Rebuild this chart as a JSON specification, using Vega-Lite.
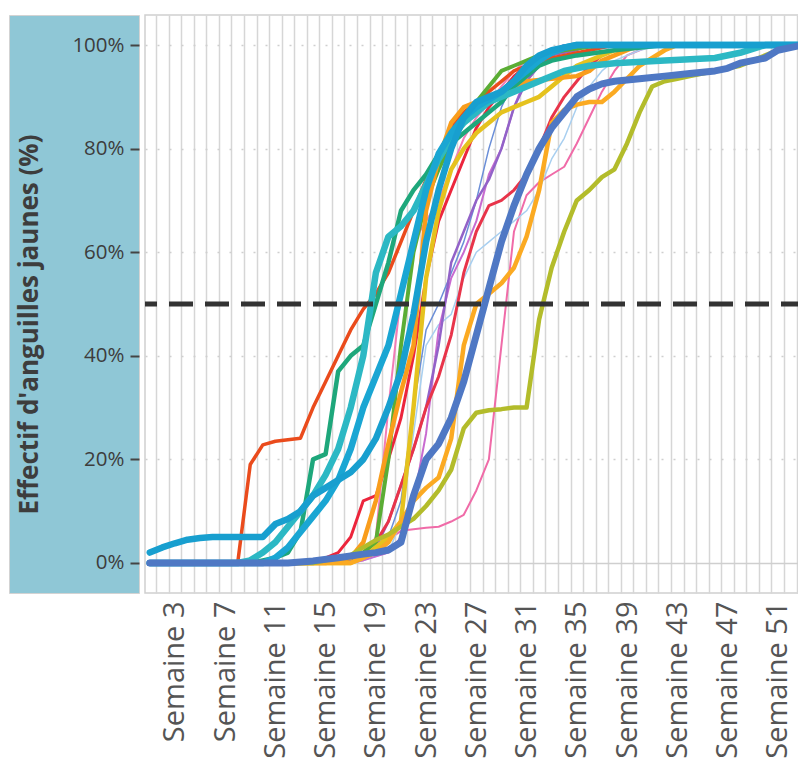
{
  "$schema": "https://vega.github.io/schema/vega-lite/v6.json",
  "padding": {"left": 8, "top": 14, "right": 0, "bottom": 0},
  "background": "white",
  "spacing": 0,
  "datasets": {
    "curves": [
      {"s":"s01","w":1,"v":0},{"s":"s01","w":17,"v":0},{"s":"s01","w":18,"v":0.005},{"s":"s01","w":19,"v":0.02},{"s":"s01","w":20,"v":0.045},{"s":"s01","w":21,"v":0.062},{"s":"s01","w":22,"v":0.065},{"s":"s01","w":23,"v":0.068},{"s":"s01","w":24,"v":0.07},{"s":"s01","w":25,"v":0.08},{"s":"s01","w":26,"v":0.093},{"s":"s01","w":27,"v":0.14},{"s":"s01","w":28,"v":0.2},{"s":"s01","w":29,"v":0.42},{"s":"s01","w":30,"v":0.64},{"s":"s01","w":31,"v":0.71},{"s":"s01","w":32,"v":0.735},{"s":"s01","w":33,"v":0.75},{"s":"s01","w":34,"v":0.765},{"s":"s01","w":35,"v":0.81},{"s":"s01","w":36,"v":0.86},{"s":"s01","w":37,"v":0.91},{"s":"s01","w":38,"v":0.95},{"s":"s01","w":39,"v":0.98},{"s":"s01","w":40,"v":0.99},{"s":"s01","w":41,"v":1},{"s":"s01","w":53,"v":1},
      {"s":"s02","w":1,"v":0},{"s":"s02","w":16,"v":0},{"s":"s02","w":17,"v":0.005},{"s":"s02","w":18,"v":0.01},{"s":"s02","w":19,"v":0.05},{"s":"s02","w":20,"v":0.3},{"s":"s02","w":21,"v":0.52},{"s":"s02","w":22,"v":0.62},{"s":"s02","w":23,"v":0.66},{"s":"s02","w":24,"v":0.7},{"s":"s02","w":25,"v":0.76},{"s":"s02","w":26,"v":0.82},{"s":"s02","w":27,"v":0.86},{"s":"s02","w":28,"v":0.89},{"s":"s02","w":29,"v":0.92},{"s":"s02","w":30,"v":0.95},{"s":"s02","w":31,"v":0.97},{"s":"s02","w":33,"v":0.99},{"s":"s02","w":35,"v":1},{"s":"s02","w":53,"v":1},
      {"s":"s03","w":1,"v":0},{"s":"s03","w":17,"v":0},{"s":"s03","w":18,"v":0.005},{"s":"s03","w":20,"v":0.02},{"s":"s03","w":21,"v":0.08},{"s":"s03","w":22,"v":0.25},{"s":"s03","w":23,"v":0.42},{"s":"s03","w":24,"v":0.46},{"s":"s03","w":25,"v":0.48},{"s":"s03","w":26,"v":0.55},{"s":"s03","w":27,"v":0.6},{"s":"s03","w":28,"v":0.62},{"s":"s03","w":29,"v":0.64},{"s":"s03","w":30,"v":0.66},{"s":"s03","w":31,"v":0.68},{"s":"s03","w":32,"v":0.72},{"s":"s03","w":33,"v":0.78},{"s":"s03","w":34,"v":0.82},{"s":"s03","w":35,"v":0.88},{"s":"s03","w":36,"v":0.92},{"s":"s03","w":37,"v":0.95},{"s":"s03","w":38,"v":0.97},{"s":"s03","w":40,"v":0.99},{"s":"s03","w":42,"v":1},{"s":"s03","w":53,"v":1},
      {"s":"s04","w":1,"v":0},{"s":"s04","w":16,"v":0},{"s":"s04","w":17,"v":0.005},{"s":"s04","w":19,"v":0.02},{"s":"s04","w":20,"v":0.05},{"s":"s04","w":21,"v":0.12},{"s":"s04","w":22,"v":0.3},{"s":"s04","w":23,"v":0.45},{"s":"s04","w":24,"v":0.5},{"s":"s04","w":25,"v":0.56},{"s":"s04","w":26,"v":0.62},{"s":"s04","w":27,"v":0.7},{"s":"s04","w":28,"v":0.8},{"s":"s04","w":29,"v":0.88},{"s":"s04","w":30,"v":0.93},{"s":"s04","w":31,"v":0.96},{"s":"s04","w":32,"v":0.98},{"s":"s04","w":34,"v":1},{"s":"s04","w":53,"v":1},
      {"s":"s05","w":1,"v":0},{"s":"s05","w":17,"v":0},{"s":"s05","w":18,"v":0.005},{"s":"s05","w":20,"v":0.02},{"s":"s05","w":21,"v":0.05},{"s":"s05","w":22,"v":0.12},{"s":"s05","w":23,"v":0.25},{"s":"s05","w":24,"v":0.45},{"s":"s05","w":25,"v":0.55},{"s":"s05","w":26,"v":0.6},{"s":"s05","w":27,"v":0.66},{"s":"s05","w":28,"v":0.75},{"s":"s05","w":29,"v":0.8},{"s":"s05","w":30,"v":0.88},{"s":"s05","w":31,"v":0.94},{"s":"s05","w":32,"v":0.98},{"s":"s05","w":34,"v":1},{"s":"s05","w":53,"v":1},
      {"s":"s06","w":1,"v":0},{"s":"s06","w":16,"v":0},{"s":"s06","w":17,"v":0.005},{"s":"s06","w":18,"v":0.01},{"s":"s06","w":19,"v":0.03},{"s":"s06","w":20,"v":0.08},{"s":"s06","w":21,"v":0.15},{"s":"s06","w":22,"v":0.22},{"s":"s06","w":23,"v":0.3},{"s":"s06","w":24,"v":0.42},{"s":"s06","w":25,"v":0.58},{"s":"s06","w":26,"v":0.64},{"s":"s06","w":27,"v":0.7},{"s":"s06","w":28,"v":0.74},{"s":"s06","w":29,"v":0.8},{"s":"s06","w":30,"v":0.88},{"s":"s06","w":31,"v":0.93},{"s":"s06","w":32,"v":0.96},{"s":"s06","w":33,"v":0.98},{"s":"s06","w":35,"v":0.99},{"s":"s06","w":36,"v":1},{"s":"s06","w":53,"v":1},
      {"s":"s07","w":1,"v":0},{"s":"s07","w":16,"v":0},{"s":"s07","w":17,"v":0.01},{"s":"s07","w":18,"v":0.02},{"s":"s07","w":19,"v":0.04},{"s":"s07","w":20,"v":0.08},{"s":"s07","w":21,"v":0.15},{"s":"s07","w":22,"v":0.22},{"s":"s07","w":23,"v":0.3},{"s":"s07","w":24,"v":0.36},{"s":"s07","w":25,"v":0.44},{"s":"s07","w":26,"v":0.56},{"s":"s07","w":27,"v":0.64},{"s":"s07","w":28,"v":0.69},{"s":"s07","w":29,"v":0.7},{"s":"s07","w":30,"v":0.72},{"s":"s07","w":31,"v":0.75},{"s":"s07","w":32,"v":0.8},{"s":"s07","w":33,"v":0.86},{"s":"s07","w":34,"v":0.9},{"s":"s07","w":35,"v":0.93},{"s":"s07","w":36,"v":0.96},{"s":"s07","w":37,"v":0.98},{"s":"s07","w":38,"v":0.99},{"s":"s07","w":40,"v":1},{"s":"s07","w":53,"v":1},
      {"s":"s08","w":1,"v":0},{"s":"s08","w":14,"v":0},{"s":"s08","w":15,"v":0.01},{"s":"s08","w":16,"v":0.02},{"s":"s08","w":17,"v":0.05},{"s":"s08","w":18,"v":0.12},{"s":"s08","w":19,"v":0.13},{"s":"s08","w":20,"v":0.2},{"s":"s08","w":21,"v":0.28},{"s":"s08","w":22,"v":0.4},{"s":"s08","w":23,"v":0.55},{"s":"s08","w":24,"v":0.66},{"s":"s08","w":25,"v":0.72},{"s":"s08","w":26,"v":0.78},{"s":"s08","w":27,"v":0.84},{"s":"s08","w":28,"v":0.88},{"s":"s08","w":29,"v":0.91},{"s":"s08","w":30,"v":0.94},{"s":"s08","w":31,"v":0.96},{"s":"s08","w":32,"v":0.975},{"s":"s08","w":33,"v":0.985},{"s":"s08","w":35,"v":0.995},{"s":"s08","w":37,"v":1},{"s":"s08","w":53,"v":1},
      {"s":"s09","w":1,"v":0},{"s":"s09","w":8,"v":0},{"s":"s09","w":9,"v":0.19},{"s":"s09","w":10,"v":0.228},{"s":"s09","w":11,"v":0.235},{"s":"s09","w":12,"v":0.238},{"s":"s09","w":13,"v":0.241},{"s":"s09","w":14,"v":0.3},{"s":"s09","w":15,"v":0.35},{"s":"s09","w":16,"v":0.4},{"s":"s09","w":17,"v":0.45},{"s":"s09","w":18,"v":0.49},{"s":"s09","w":19,"v":0.52},{"s":"s09","w":20,"v":0.56},{"s":"s09","w":21,"v":0.62},{"s":"s09","w":22,"v":0.68},{"s":"s09","w":23,"v":0.74},{"s":"s09","w":24,"v":0.79},{"s":"s09","w":25,"v":0.84},{"s":"s09","w":26,"v":0.87},{"s":"s09","w":27,"v":0.89},{"s":"s09","w":28,"v":0.91},{"s":"s09","w":29,"v":0.93},{"s":"s09","w":30,"v":0.95},{"s":"s09","w":31,"v":0.96},{"s":"s09","w":32,"v":0.97},{"s":"s09","w":34,"v":0.98},{"s":"s09","w":36,"v":0.99},{"s":"s09","w":38,"v":1},{"s":"s09","w":53,"v":1},
      {"s":"s10","w":1,"v":0},{"s":"s10","w":15,"v":0},{"s":"s10","w":16,"v":0.005},{"s":"s10","w":17,"v":0.01},{"s":"s10","w":18,"v":0.02},{"s":"s10","w":19,"v":0.04},{"s":"s10","w":20,"v":0.2},{"s":"s10","w":21,"v":0.42},{"s":"s10","w":22,"v":0.6},{"s":"s10","w":23,"v":0.7},{"s":"s10","w":24,"v":0.76},{"s":"s10","w":25,"v":0.81},{"s":"s10","w":26,"v":0.85},{"s":"s10","w":27,"v":0.89},{"s":"s10","w":28,"v":0.92},{"s":"s10","w":29,"v":0.95},{"s":"s10","w":30,"v":0.96},{"s":"s10","w":31,"v":0.97},{"s":"s10","w":32,"v":0.98},{"s":"s10","w":34,"v":0.99},{"s":"s10","w":37,"v":1},{"s":"s10","w":53,"v":1},
      {"s":"s11","w":1,"v":0},{"s":"s11","w":17,"v":0},{"s":"s11","w":18,"v":0.01},{"s":"s11","w":19,"v":0.03},{"s":"s11","w":20,"v":0.05},{"s":"s11","w":21,"v":0.08},{"s":"s11","w":22,"v":0.3},{"s":"s11","w":23,"v":0.55},{"s":"s11","w":24,"v":0.68},{"s":"s11","w":25,"v":0.76},{"s":"s11","w":26,"v":0.8},{"s":"s11","w":27,"v":0.83},{"s":"s11","w":28,"v":0.85},{"s":"s11","w":29,"v":0.87},{"s":"s11","w":30,"v":0.88},{"s":"s11","w":31,"v":0.89},{"s":"s11","w":32,"v":0.9},{"s":"s11","w":33,"v":0.92},{"s":"s11","w":34,"v":0.94},{"s":"s11","w":35,"v":0.96},{"s":"s11","w":36,"v":0.97},{"s":"s11","w":38,"v":0.99},{"s":"s11","w":40,"v":1},{"s":"s11","w":53,"v":1},
      {"s":"s12","w":1,"v":0},{"s":"s12","w":15,"v":0},{"s":"s12","w":16,"v":0.005},{"s":"s12","w":17,"v":0.01},{"s":"s12","w":18,"v":0.04},{"s":"s12","w":19,"v":0.12},{"s":"s12","w":20,"v":0.23},{"s":"s12","w":21,"v":0.33},{"s":"s12","w":22,"v":0.42},{"s":"s12","w":23,"v":0.68},{"s":"s12","w":24,"v":0.78},{"s":"s12","w":25,"v":0.85},{"s":"s12","w":26,"v":0.88},{"s":"s12","w":27,"v":0.89},{"s":"s12","w":28,"v":0.9},{"s":"s12","w":29,"v":0.91},{"s":"s12","w":30,"v":0.92},{"s":"s12","w":31,"v":0.93},{"s":"s12","w":33,"v":0.935},{"s":"s12","w":35,"v":0.94},{"s":"s12","w":36,"v":0.95},{"s":"s12","w":37,"v":0.97},{"s":"s12","w":38,"v":0.98},{"s":"s12","w":39,"v":0.99},{"s":"s12","w":40,"v":1},{"s":"s12","w":53,"v":1},
      {"s":"s13","w":1,"v":0},{"s":"s13","w":17,"v":0},{"s":"s13","w":18,"v":0.01},{"s":"s13","w":19,"v":0.02},{"s":"s13","w":20,"v":0.04},{"s":"s13","w":21,"v":0.08},{"s":"s13","w":22,"v":0.12},{"s":"s13","w":23,"v":0.145},{"s":"s13","w":24,"v":0.165},{"s":"s13","w":25,"v":0.24},{"s":"s13","w":26,"v":0.42},{"s":"s13","w":27,"v":0.5},{"s":"s13","w":28,"v":0.52},{"s":"s13","w":29,"v":0.54},{"s":"s13","w":30,"v":0.57},{"s":"s13","w":31,"v":0.63},{"s":"s13","w":32,"v":0.72},{"s":"s13","w":33,"v":0.85},{"s":"s13","w":34,"v":0.875},{"s":"s13","w":35,"v":0.885},{"s":"s13","w":36,"v":0.89},{"s":"s13","w":37,"v":0.89},{"s":"s13","w":38,"v":0.91},{"s":"s13","w":39,"v":0.935},{"s":"s13","w":40,"v":0.96},{"s":"s13","w":41,"v":0.975},{"s":"s13","w":42,"v":0.99},{"s":"s13","w":43,"v":1},{"s":"s13","w":53,"v":1},
      {"s":"s14","w":1,"v":0},{"s":"s14","w":14,"v":0},{"s":"s14","w":15,"v":0.005},{"s":"s14","w":17,"v":0.015},{"s":"s14","w":18,"v":0.03},{"s":"s14","w":19,"v":0.044},{"s":"s14","w":20,"v":0.055},{"s":"s14","w":21,"v":0.07},{"s":"s14","w":22,"v":0.085},{"s":"s14","w":23,"v":0.11},{"s":"s14","w":24,"v":0.14},{"s":"s14","w":25,"v":0.18},{"s":"s14","w":26,"v":0.26},{"s":"s14","w":27,"v":0.29},{"s":"s14","w":28,"v":0.295},{"s":"s14","w":29,"v":0.297},{"s":"s14","w":30,"v":0.3},{"s":"s14","w":31,"v":0.3},{"s":"s14","w":32,"v":0.47},{"s":"s14","w":33,"v":0.57},{"s":"s14","w":34,"v":0.64},{"s":"s14","w":35,"v":0.7},{"s":"s14","w":36,"v":0.72},{"s":"s14","w":37,"v":0.745},{"s":"s14","w":38,"v":0.76},{"s":"s14","w":39,"v":0.81},{"s":"s14","w":40,"v":0.87},{"s":"s14","w":41,"v":0.92},{"s":"s14","w":42,"v":0.93},{"s":"s14","w":43,"v":0.935},{"s":"s14","w":44,"v":0.94},{"s":"s14","w":45,"v":0.945},{"s":"s14","w":46,"v":0.95},{"s":"s14","w":47,"v":0.955},{"s":"s14","w":48,"v":0.96},{"s":"s14","w":49,"v":0.97},{"s":"s14","w":50,"v":0.98},{"s":"s14","w":51,"v":0.99},{"s":"s14","w":52,"v":1},{"s":"s14","w":53,"v":1},
      {"s":"s15","w":1,"v":0},{"s":"s15","w":9,"v":0},{"s":"s15","w":10,"v":0.005},{"s":"s15","w":11,"v":0.01},{"s":"s15","w":12,"v":0.02},{"s":"s15","w":13,"v":0.06},{"s":"s15","w":14,"v":0.2},{"s":"s15","w":15,"v":0.21},{"s":"s15","w":16,"v":0.37},{"s":"s15","w":17,"v":0.4},{"s":"s15","w":18,"v":0.42},{"s":"s15","w":19,"v":0.5},{"s":"s15","w":20,"v":0.58},{"s":"s15","w":21,"v":0.68},{"s":"s15","w":22,"v":0.72},{"s":"s15","w":23,"v":0.75},{"s":"s15","w":24,"v":0.79},{"s":"s15","w":25,"v":0.81},{"s":"s15","w":26,"v":0.83},{"s":"s15","w":27,"v":0.85},{"s":"s15","w":28,"v":0.87},{"s":"s15","w":29,"v":0.89},{"s":"s15","w":30,"v":0.92},{"s":"s15","w":31,"v":0.94},{"s":"s15","w":32,"v":0.96},{"s":"s15","w":33,"v":0.97},{"s":"s15","w":35,"v":0.98},{"s":"s15","w":38,"v":0.99},{"s":"s15","w":42,"v":1},{"s":"s15","w":53,"v":1},
      {"s":"s16","w":1,"v":0},{"s":"s16","w":8,"v":0},{"s":"s16","w":9,"v":0.005},{"s":"s16","w":10,"v":0.02},{"s":"s16","w":11,"v":0.04},{"s":"s16","w":12,"v":0.07},{"s":"s16","w":13,"v":0.1},{"s":"s16","w":14,"v":0.13},{"s":"s16","w":15,"v":0.17},{"s":"s16","w":16,"v":0.22},{"s":"s16","w":17,"v":0.3},{"s":"s16","w":18,"v":0.4},{"s":"s16","w":19,"v":0.56},{"s":"s16","w":20,"v":0.63},{"s":"s16","w":21,"v":0.65},{"s":"s16","w":22,"v":0.68},{"s":"s16","w":23,"v":0.73},{"s":"s16","w":24,"v":0.78},{"s":"s16","w":25,"v":0.82},{"s":"s16","w":26,"v":0.85},{"s":"s16","w":27,"v":0.87},{"s":"s16","w":28,"v":0.89},{"s":"s16","w":29,"v":0.9},{"s":"s16","w":30,"v":0.91},{"s":"s16","w":32,"v":0.93},{"s":"s16","w":34,"v":0.95},{"s":"s16","w":36,"v":0.96},{"s":"s16","w":38,"v":0.965},{"s":"s16","w":42,"v":0.97},{"s":"s16","w":46,"v":0.975},{"s":"s16","w":48,"v":0.985},{"s":"s16","w":50,"v":1},{"s":"s16","w":53,"v":1},
      {"s":"s17","w":1,"v":0},{"s":"s17","w":10,"v":0},{"s":"s17","w":11,"v":0.01},{"s":"s17","w":12,"v":0.03},{"s":"s17","w":13,"v":0.06},{"s":"s17","w":14,"v":0.09},{"s":"s17","w":15,"v":0.12},{"s":"s17","w":16,"v":0.16},{"s":"s17","w":17,"v":0.22},{"s":"s17","w":18,"v":0.3},{"s":"s17","w":19,"v":0.36},{"s":"s17","w":20,"v":0.42},{"s":"s17","w":21,"v":0.52},{"s":"s17","w":22,"v":0.62},{"s":"s17","w":23,"v":0.72},{"s":"s17","w":24,"v":0.79},{"s":"s17","w":25,"v":0.83},{"s":"s17","w":26,"v":0.86},{"s":"s17","w":27,"v":0.88},{"s":"s17","w":28,"v":0.895},{"s":"s17","w":29,"v":0.91},{"s":"s17","w":30,"v":0.93},{"s":"s17","w":31,"v":0.95},{"s":"s17","w":32,"v":0.97},{"s":"s17","w":33,"v":0.985},{"s":"s17","w":34,"v":0.995},{"s":"s17","w":35,"v":1},{"s":"s17","w":53,"v":1},
      {"s":"s18","w":1,"v":0.02},{"s":"s18","w":2,"v":0.03},{"s":"s18","w":3,"v":0.038},{"s":"s18","w":4,"v":0.045},{"s":"s18","w":5,"v":0.048},{"s":"s18","w":6,"v":0.05},{"s":"s18","w":10,"v":0.05},{"s":"s18","w":11,"v":0.075},{"s":"s18","w":12,"v":0.085},{"s":"s18","w":13,"v":0.1},{"s":"s18","w":14,"v":0.13},{"s":"s18","w":15,"v":0.145},{"s":"s18","w":16,"v":0.16},{"s":"s18","w":17,"v":0.175},{"s":"s18","w":18,"v":0.2},{"s":"s18","w":19,"v":0.24},{"s":"s18","w":20,"v":0.3},{"s":"s18","w":21,"v":0.37},{"s":"s18","w":22,"v":0.48},{"s":"s18","w":23,"v":0.62},{"s":"s18","w":24,"v":0.72},{"s":"s18","w":25,"v":0.8},{"s":"s18","w":26,"v":0.86},{"s":"s18","w":27,"v":0.89},{"s":"s18","w":28,"v":0.9},{"s":"s18","w":29,"v":0.91},{"s":"s18","w":30,"v":0.93},{"s":"s18","w":31,"v":0.96},{"s":"s18","w":32,"v":0.98},{"s":"s18","w":33,"v":0.99},{"s":"s18","w":35,"v":1},{"s":"s18","w":53,"v":1},
      {"s":"s19","w":1,"v":0},{"s":"s19","w":12,"v":0},{"s":"s19","w":14,"v":0.004},{"s":"s19","w":16,"v":0.01},{"s":"s19","w":18,"v":0.017},{"s":"s19","w":19,"v":0.02},{"s":"s19","w":20,"v":0.025},{"s":"s19","w":21,"v":0.04},{"s":"s19","w":22,"v":0.13},{"s":"s19","w":23,"v":0.2},{"s":"s19","w":24,"v":0.23},{"s":"s19","w":25,"v":0.28},{"s":"s19","w":26,"v":0.35},{"s":"s19","w":27,"v":0.44},{"s":"s19","w":28,"v":0.53},{"s":"s19","w":29,"v":0.62},{"s":"s19","w":30,"v":0.69},{"s":"s19","w":31,"v":0.75},{"s":"s19","w":32,"v":0.8},{"s":"s19","w":33,"v":0.84},{"s":"s19","w":34,"v":0.87},{"s":"s19","w":35,"v":0.9},{"s":"s19","w":36,"v":0.915},{"s":"s19","w":37,"v":0.925},{"s":"s19","w":38,"v":0.93},{"s":"s19","w":40,"v":0.935},{"s":"s19","w":42,"v":0.94},{"s":"s19","w":44,"v":0.945},{"s":"s19","w":46,"v":0.95},{"s":"s19","w":47,"v":0.955},{"s":"s19","w":48,"v":0.965},{"s":"s19","w":49,"v":0.97},{"s":"s19","w":50,"v":0.975},{"s":"s19","w":51,"v":0.99},{"s":"s19","w":52,"v":0.995},{"s":"s19","w":53,"v":1}
    ]
  },
  "resolve": {"scale": {"y": "independent"}},
  "hconcat": [
    {
      "width": 130,
      "height": 578,
      "view": {"fill": "#8fc7d6", "stroke": "#d3d3d3"},
      "data": {"name": "curves"},
      "mark": {"type": "point", "opacity": 0},
      "encoding": {
        "y": {
          "field": "v",
          "type": "quantitative",
          "scale": {"domain": [-0.058, 1.058], "nice": false, "zero": false},
          "axis": {
            "orient": "left",
            "offset": -130,
            "values": [0, 0.2, 0.4, 0.6, 0.8, 1],
            "format": ".0%",
            "domain": false,
            "grid": false,
            "tickSize": 9,
            "tickWidth": 2,
            "tickColor": "#444444",
            "labelPadding": 6,
            "labelFont": "Open Sans",
            "labelFontSize": 20.5,
            "labelColor": "#3d3d3d",
            "title": "Effectif d'anguilles jaunes (%)",
            "titleFont": "Open Sans",
            "titleFontSize": 26,
            "titleFontWeight": "bold",
            "titleColor": "#3d3d3d",
            "titlePadding": 29,
            "titleY": 309
          }
        }
      }
    },
    {
      "width": 660,
      "height": 578,
      "view": {"stroke": "#d0d0d0", "strokeWidth": 1.5},
      "layer": [
        {
          "data": {"name": "curves"},
          "mark": {"type": "line", "strokeJoin": "round", "strokeCap": "round"},
          "encoding": {
            "x": {
              "field": "w",
              "type": "quantitative",
              "scale": {"domain": [0.62, 53.17], "nice": false, "zero": false},
              "axis": {
                "values": [1.5,2.5,3.5,4.5,5.5,6.5,7.5,8.5,9.5,10.5,11.5,12.5,13.5,14.5,15.5,16.5,17.5,18.5,19.5,20.5,21.5,22.5,23.5,24.5,25.5,26.5,27.5,28.5,29.5,30.5,31.5,32.5,33.5,34.5,35.5,36.5,37.5,38.5,39.5,40.5,41.5,42.5,43.5,44.5,45.5,46.5,47.5,48.5,49.5,50.5,51.5,52.5],
                "labelExpr": "(datum.value + 0.5) % 4 == 3 ? 'Semaine ' + (datum.value + 0.5) : ''",
                "labelOffset": 6.25,
                "labelAngle": -90,
                "labelFont": "Open Sans",
                "labelFontSize": 29,
                "labelColor": "#555555",
                "labelPadding": 8,
                "labelOverlap": false,
                "labelFlush": false,
                "grid": true,
                "gridColor": "#d6d6d6",
                "gridWidth": 1.5,
                "ticks": false,
                "domain": false,
                "title": null
              }
            },
            "y": {
              "field": "v",
              "type": "quantitative",
              "scale": {"domain": [-0.058, 1.058], "nice": false, "zero": false},
              "axis": {
                "values": [0, 0.2, 0.4, 0.6, 0.8, 1],
                "grid": true,
                "gridColor": "#cfcfcf",
                "gridWidth": 1.5,
                "gridDash": {"condition": {"test": "datum.value === 0", "value": []}, "value": [2, 10]},
                "labels": false,
                "ticks": false,
                "domain": false,
                "title": null
              }
            },
            "color": {
              "field": "s",
              "type": "nominal",
              "legend": null,
              "scale": {
                "domain": ["s01","s02","s03","s04","s05","s06","s07","s08","s09","s10","s11","s12","s13","s14","s15","s16","s17","s18","s19"],
                "range": ["#f06ba8","#f27db6","#a8cff0","#6a8ed8","#c86bd0","#9262c8","#e8344a","#ec253c","#ea4b1c","#5bad35","#e5c21e","#f99d1c","#fbaa22","#b3bc2b","#1ea77b","#2cb8c4","#1aa6d3","#189fcf","#4f78c4"]
              }
            },
            "size": {
              "field": "s",
              "type": "ordinal",
              "legend": null,
              "scale": {
                "type": "ordinal",
                "domain": ["s01","s02","s03","s04","s05","s06","s07","s08","s09","s10","s11","s12","s13","s14","s15","s16","s17","s18","s19"],
                "range": [2,2,1.5,1.5,2,2.5,3,3,3.5,4,4.5,4.5,4.5,4.5,4.5,6.5,6.5,6.5,7]
              }
            }
          }
        },
        {
          "data": {"values": [{}]},
          "mark": {"type": "rule", "strokeDash": [24, 12], "strokeWidth": 5, "color": "#333333"},
          "encoding": {"y": {"datum": 0.5}}
        }
      ]
    }
  ]
}
